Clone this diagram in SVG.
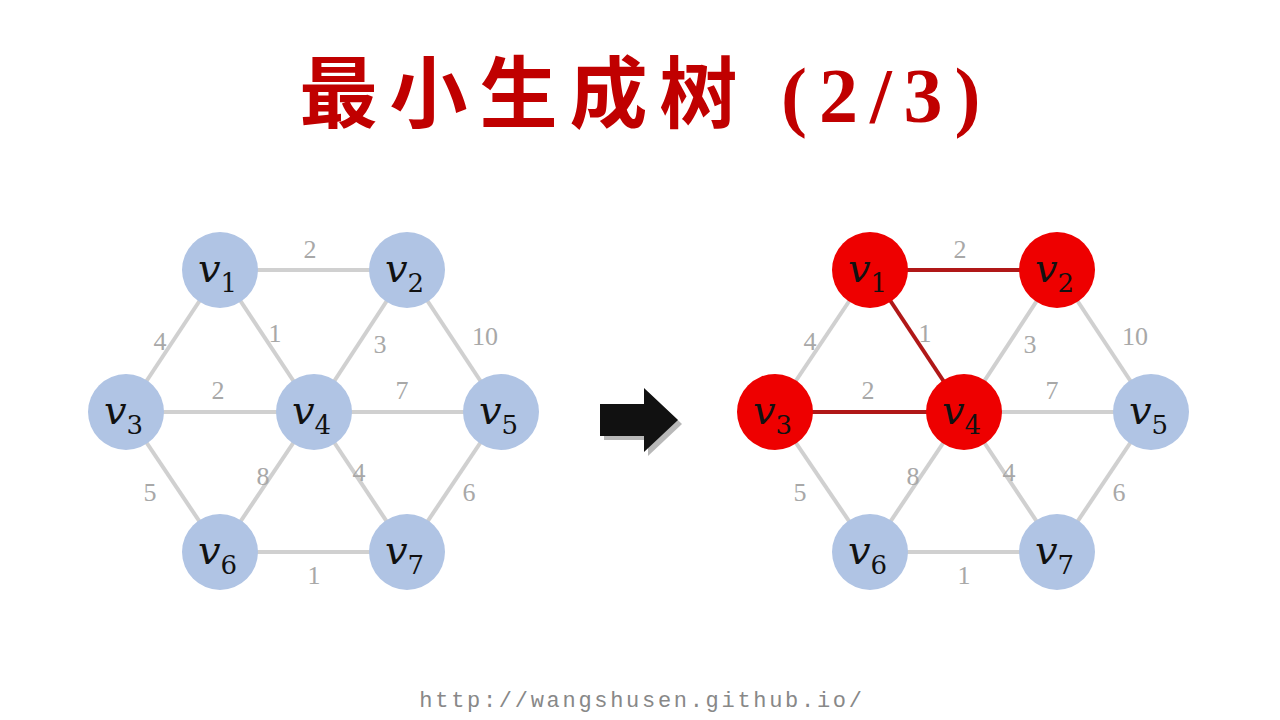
<svg xmlns="http://www.w3.org/2000/svg" width="1280" height="720" viewBox="0 0 1280 720">
<style>
.e{stroke:#d0d0d0;stroke-width:4}
.r{stroke:#b01818;stroke-width:4}
.n{fill:#b0c4e4}
.nr{fill:#ee0000}
.w{font-family:"Liberation Serif",serif;font-size:26px;fill:#a8a8a8;text-anchor:middle}
.l{font-family:"DejaVu Serif","Liberation Serif",serif;font-style:italic;font-size:40px;fill:#111}
.s{font-size:26px;font-style:normal}
</style>
<rect width="1280" height="720" fill="#fff"/>
<text x="646" y="122" text-anchor="middle" font-family="'Liberation Serif','Noto Sans CJK SC',serif" font-size="78" font-weight="bold" letter-spacing="12" fill="#c00000">最小生成树 (2/3)</text>
<g id="connectors">
<g class="e">
<line x1="220" y1="270" x2="407" y2="270"/><line x1="220" y1="270" x2="126" y2="412"/><line x1="220" y1="270" x2="314" y2="412"/>
<line x1="407" y1="270" x2="314" y2="412"/><line x1="407" y1="270" x2="501" y2="412"/><line x1="126" y1="412" x2="314" y2="412"/>
<line x1="314" y1="412" x2="501" y2="412"/><line x1="126" y1="412" x2="220" y2="552"/><line x1="314" y1="412" x2="220" y2="552"/>
<line x1="314" y1="412" x2="407" y2="552"/><line x1="501" y1="412" x2="407" y2="552"/><line x1="220" y1="552" x2="407" y2="552"/>
<line x1="870" y1="270" x2="775" y2="412"/><line x1="1057" y1="270" x2="964" y2="412"/><line x1="1057" y1="270" x2="1151" y2="412"/>
<line x1="964" y1="412" x2="1151" y2="412"/><line x1="775" y1="412" x2="870" y2="552"/><line x1="964" y1="412" x2="870" y2="552"/>
<line x1="964" y1="412" x2="1057" y2="552"/><line x1="1151" y1="412" x2="1057" y2="552"/><line x1="870" y1="552" x2="1057" y2="552"/>
</g>
<g class="r"><line x1="870" y1="270" x2="1057" y2="270"/><line x1="870" y1="270" x2="964" y2="412"/><line x1="775" y1="412" x2="964" y2="412"/></g>
<g class="w">
<text x="310" y="258">2</text><text x="160" y="350">4</text><text x="275" y="342">1</text><text x="380" y="353">3</text><text x="485" y="345">10</text><text x="218" y="399">2</text><text x="402" y="399">7</text><text x="150" y="501">5</text><text x="263" y="485">8</text><text x="359" y="481">4</text><text x="469" y="501">6</text><text x="314" y="584">1</text>
<text x="960" y="258">2</text><text x="810" y="350">4</text><text x="925" y="342">1</text><text x="1030" y="353">3</text><text x="1135" y="345">10</text><text x="868" y="399">2</text><text x="1052" y="399">7</text><text x="800" y="501">5</text><text x="913" y="485">8</text><text x="1009" y="481">4</text><text x="1119" y="501">6</text><text x="964" y="584">1</text>
</g>
</g>
<g id="arrow"><path d="M604,408 h44 v-16 l34,32 l-34,32 v-16 h-44z" fill="#888" opacity="0.6"/><path d="M600,404 h44 v-16 l34,32 l-34,32 v-16 h-44z" fill="#111"/></g>
<g id="L1"><circle class="n" cx="220" cy="270" r="38"/><text class="l" x="198" y="282">v<tspan class="s" dy="10">1</tspan></text></g>
<g id="L2"><circle class="n" cx="407" cy="270" r="38"/><text class="l" x="385" y="282">v<tspan class="s" dy="10">2</tspan></text></g>
<g id="L3"><circle class="n" cx="126" cy="412" r="38"/><text class="l" x="104" y="424">v<tspan class="s" dy="10">3</tspan></text></g>
<g id="L4"><circle class="n" cx="314" cy="412" r="38"/><text class="l" x="292" y="424">v<tspan class="s" dy="10">4</tspan></text></g>
<g id="L5"><circle class="n" cx="501" cy="412" r="38"/><text class="l" x="479" y="424">v<tspan class="s" dy="10">5</tspan></text></g>
<g id="L6"><circle class="n" cx="220" cy="552" r="38"/><text class="l" x="198" y="564">v<tspan class="s" dy="10">6</tspan></text></g>
<g id="L7"><circle class="n" cx="407" cy="552" r="38"/><text class="l" x="385" y="564">v<tspan class="s" dy="10">7</tspan></text></g>
<g id="R1"><circle class="nr" cx="870" cy="270" r="38"/><text class="l" x="848" y="282">v<tspan class="s" dy="10">1</tspan></text></g>
<g id="R2"><circle class="nr" cx="1057" cy="270" r="38"/><text class="l" x="1035" y="282">v<tspan class="s" dy="10">2</tspan></text></g>
<g id="R3"><circle class="nr" cx="775" cy="412" r="38"/><text class="l" x="753" y="424">v<tspan class="s" dy="10">3</tspan></text></g>
<g id="R4"><circle class="nr" cx="964" cy="412" r="38"/><text class="l" x="942" y="424">v<tspan class="s" dy="10">4</tspan></text></g>
<g id="R5"><circle class="n" cx="1151" cy="412" r="38"/><text class="l" x="1129" y="424">v<tspan class="s" dy="10">5</tspan></text></g>
<g id="R6"><circle class="n" cx="870" cy="552" r="38"/><text class="l" x="848" y="564">v<tspan class="s" dy="10">6</tspan></text></g>
<g id="R7"><circle class="n" cx="1057" cy="552" r="38"/><text class="l" x="1035" y="564">v<tspan class="s" dy="10">7</tspan></text></g>
<text x="642" y="707" text-anchor="middle" font-family="'Liberation Mono',monospace" font-size="22" letter-spacing="2.7" fill="#888">http://wangshusen.github.io/</text>
</svg>
